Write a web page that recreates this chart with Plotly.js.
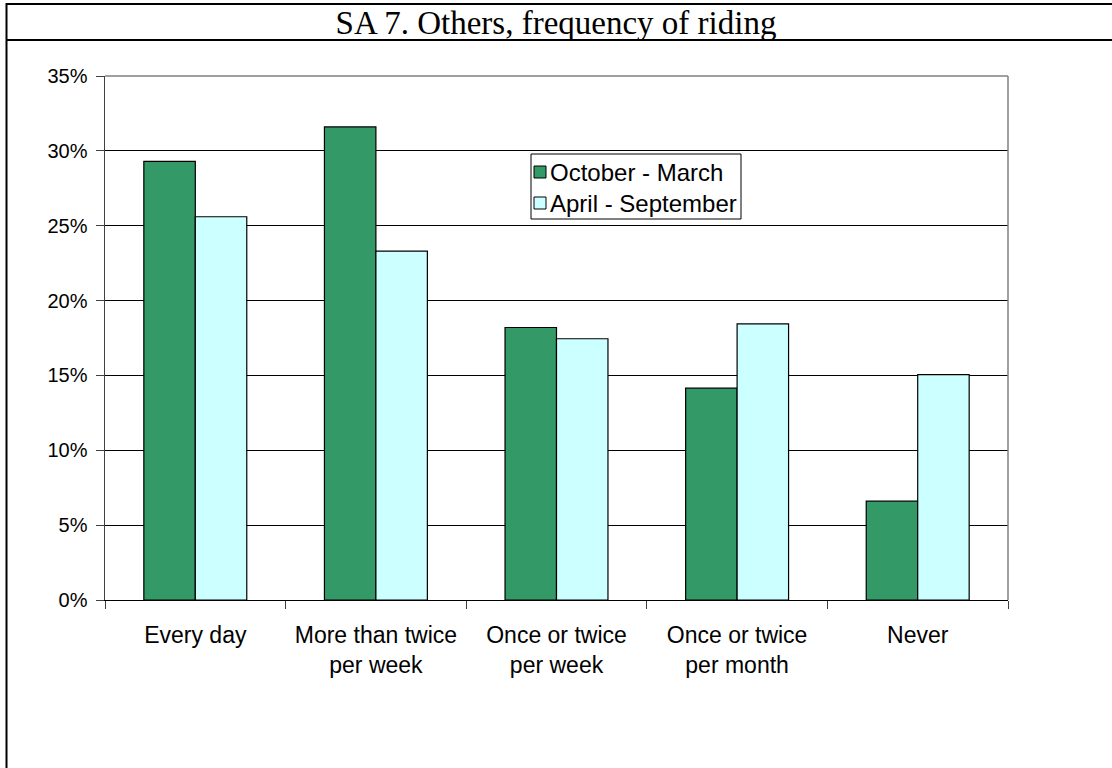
<!DOCTYPE html>
<html>
<head>
<meta charset="utf-8">
<script src="https://cdn.plot.ly/plotly-3.0.1.min.js"></script>
<style>
html,body{margin:0;padding:0;background:#fff;}
#chart{width:1112px;height:768px;}
</style>
</head>
<body>
<div id="chart"></div>
<script>
const categories = ["Every day", "More than twice<br>per week", "Once or twice<br>per week", "Once or twice<br>per month", "Never"];
const octoberMarch = [0.293, 0.316, 0.182, 0.1415, 0.066];
const aprilSeptember = [0.256, 0.233, 0.1745, 0.1845, 0.1505];
const seriesNames = ["October - March", "April - September"];
const seriesColors = ["#339966", "#CCFFFF"];
const yTickValues = [0, 0.05, 0.10, 0.15, 0.20, 0.25, 0.30, 0.35];
const yTickLabels = ["0%", "5%", "10%", "15%", "20%", "25%", "30%", "35%"];
const chartTitle = "SA 7. Others, frequency of riding";

const L = 105, R = 1008, T = 76, B = 600, W = 1112, H = 768;
const px = x => (x - L) / (R - L);
const py = y => (B - y) / (B - T);

const traces = [
  {type: "bar", name: seriesNames[0], x: categories, y: octoberMarch,
   marker: {color: seriesColors[0], line: {color: "#000000", width: 1.2}}},
  {type: "bar", name: seriesNames[1], x: categories, y: aprilSeptember,
   marker: {color: seriesColors[1], line: {color: "#000000", width: 1.2}}}
];

// Manual legend (Excel-style: small square right next to text)
const legBox = {x0: 531, x1: 741, y0: 154, y1: 219};
const rowY = [172, 203];
const legendShapes = [
  {type: "rect", xref: "paper", yref: "paper", x0: px(legBox.x0), x1: px(legBox.x1), y0: py(legBox.y1), y1: py(legBox.y0),
   line: {color: "#000", width: 1}, fillcolor: "#fff", layer: "above"}
];
const legendAnns = [];
seriesNames.forEach((name, i) => {
  legendShapes.push({type: "rect", xref: "paper", yref: "paper", x0: px(534), x1: px(546),
    y0: py(rowY[i] + 6), y1: py(rowY[i] - 6), line: {color: "#000", width: 1}, fillcolor: seriesColors[i], layer: "above"});
  legendAnns.push({xref: "paper", yref: "paper", x: px(548), y: py(rowY[i]), xanchor: "left", yanchor: "middle",
    text: name, showarrow: false, font: {size: 24, color: "#000"}});
});

const layout = {
  width: W, height: H,
  margin: {l: L, r: W - R, t: T, b: H - B, pad: 0},
  paper_bgcolor: "#ffffff", plot_bgcolor: "#ffffff",
  font: {family: "Liberation Sans, Arial, sans-serif", size: 22, color: "#000"},
  title: {text: chartTitle, font: {family: "Liberation Serif, Times New Roman, serif", size: 33, color: "#000"},
          x: 0.5, xref: "container", y: 1 - 22 / H, yref: "container", yanchor: "middle"},
  barmode: "group", bargap: 0.43, bargroupgap: 0,
  showlegend: false,
  xaxis: {type: "category", tickson: "boundaries", ticks: "outside", ticklen: 8, tickcolor: "#404040",
          showline: true, linecolor: "#000", linewidth: 1, showgrid: false, zeroline: false,
          tickfont: {size: 23}, ticklabelstandoff: 14},
  yaxis: {range: [0, 0.35], tickvals: yTickValues, ticktext: yTickLabels, ticks: "outside", ticklen: 8,
          tickcolor: "#404040", showline: true, linecolor: "#404040", linewidth: 1.5,
          showgrid: true, gridcolor: "#000", gridwidth: 1, zeroline: false,
          tickfont: {size: 20}, ticklabelstandoff: 4},
  annotations: legendAnns,
  shapes: [
    {type: "line", xref: "paper", yref: "paper", x0: 0, x1: 1, y0: 1, y1: 1, line: {color: "#808080", width: 1.5}},
    {type: "line", xref: "paper", yref: "paper", x0: 1, x1: 1, y0: 0, y1: 1, line: {color: "#808080", width: 1.5}},
    {type: "line", xref: "paper", yref: "paper", x0: px(6.5), x1: px(W), y0: py(4), y1: py(4), line: {color: "#000", width: 2}},
    {type: "line", xref: "paper", yref: "paper", x0: px(6.5), x1: px(W), y0: py(40), y1: py(40), line: {color: "#000", width: 2}},
    {type: "line", xref: "paper", yref: "paper", x0: px(6.5), x1: px(6.5), y0: py(3), y1: py(H), line: {color: "#000", width: 2}}
  ].concat(legendShapes)
};

Plotly.newPlot("chart", traces, layout, {displayModeBar: false, staticPlot: true});
</script>
</body>
</html>
